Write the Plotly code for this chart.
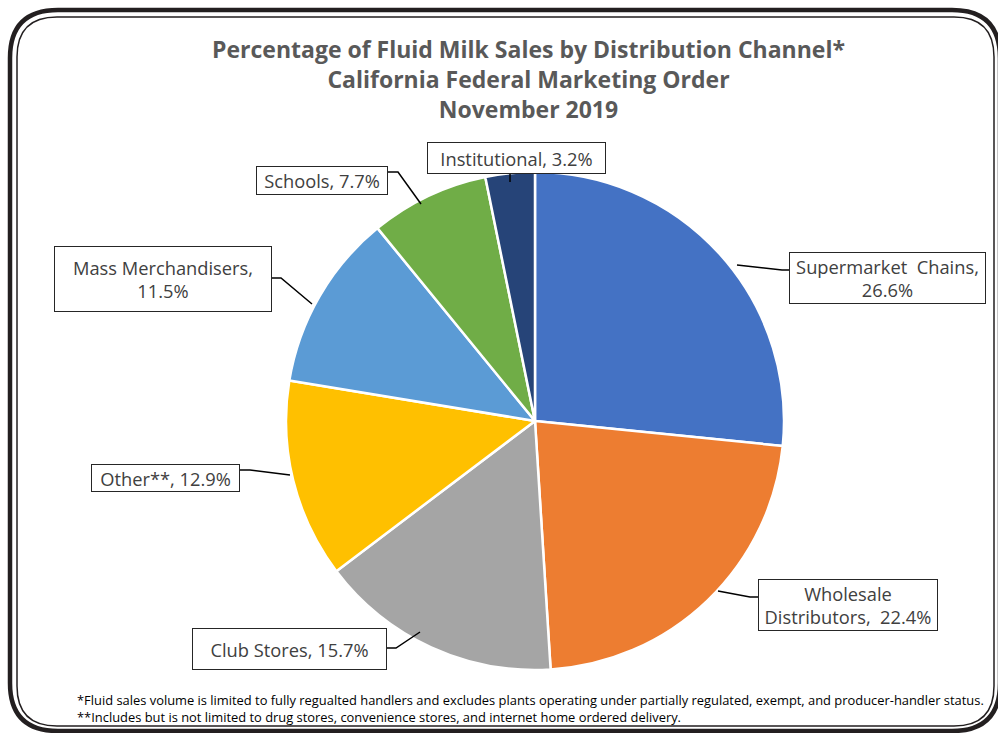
import plotly.graph_objects as go

# ---- data ----
channels = ["Supermarket Chains", "Wholesale Distributors", "Club Stores", "Other**",
            "Mass Merchandisers", "Schools", "Institutional"]
shares = [26.6, 22.4, 15.7, 12.9, 11.5, 7.7, 3.2]
colors = ["#4472C4", "#ED7D31", "#A5A5A5", "#FFC000", "#5B9BD5", "#70AD47", "#264478"]
label_fmt = ["Supermarket  Chains,<br>{v}%", "Wholesale<br>Distributors,  {v}%", "Club Stores, {v}%",
             "Other**, {v}%", "Mass Merchandisers,<br>{v}%", "Schools, {v}%", "Institutional, {v}%"]
title_lines = ["Percentage of Fluid Milk Sales by Distribution Channel*",
               "California Federal Marketing Order", "November 2019"]
footnotes = ["*Fluid sales volume is limited to fully regualted handlers and excludes plants operating under partially regulated, exempt, and producer-handler status.",
             "**Includes but is not limited to drug stores, convenience stores, and internet home ordered delivery."]

W, H = 998, 733
def px(x, y):
    return x / W, 1 - y / H

# ---- layout geometry (pixels) ----
cx, cy, r = 535, 421, 249
boxes = [  # x0, y0, x1, y1
    (789, 252, 986, 304),
    (758, 579, 938, 631),
    (192, 628, 387, 670),
    (91, 464, 240, 492),
    (54, 246, 272, 312),
    (256, 166, 388, 195),
    (427, 142, 606, 174),
]
leaders = [
    [(789, 270), (782, 270), (737, 265)],
    [(758, 597), (750, 597), (718, 591)],
    [(387, 648), (396, 648), (420, 632)],
    [(240, 470), (250, 470), (290, 475)],
    [(272, 278), (281, 278), (312, 304)],
    [(388, 172), (398, 172), (421, 204)],
    [(510, 174), (510, 182)],
]

fig = go.Figure(go.Pie(
    labels=channels, values=shares, sort=False, direction="clockwise", rotation=0,
    marker=dict(colors=colors, line=dict(color="white", width=2.5)),
    textinfo="none", hoverinfo="label+percent", showlegend=False,
    domain=dict(x=[(cx - r) / W, (cx + r) / W], y=[1 - (cy + r) / H, 1 - (cy - r) / H]),
))

annotations = []
shapes = []
for (x0, y0, x1, y1), fmt, v in zip(boxes, label_fmt, shares):
    xc, yc = px((x0 + x1) / 2, (y0 + y1) / 2)
    annotations.append(dict(
        x=xc, y=yc, xref="paper", yref="paper", xanchor="center", yanchor="middle",
        text=fmt.format(v=v), showarrow=False, width=x1 - x0 - 2, height=y1 - y0 - 2,
        bordercolor="#262626", borderwidth=1, borderpad=0, bgcolor="white",
        font=dict(family="Open Sans, sans-serif", size=18.3, color="#404040"),
        align="center"))
for pts in leaders:
    path = "M " + " L ".join(f"{px(x, y)[0]},{px(x, y)[1]}" for x, y in pts)
    shapes.append(dict(type="path", xref="paper", yref="paper", path=path,
                       line=dict(color="black", width=1.5)))

def rrect(l, t, rgt, b, rad):
    p = [f"M {px(l, t + rad)[0]},{px(l, t + rad)[1]}",
         f"Q {px(l, t)[0]},{px(l, t)[1]} {px(l + rad, t)[0]},{px(l + rad, t)[1]}",
         f"L {px(rgt - rad, t)[0]},{px(rgt - rad, t)[1]}",
         f"Q {px(rgt, t)[0]},{px(rgt, t)[1]} {px(rgt, t + rad)[0]},{px(rgt, t + rad)[1]}",
         f"L {px(rgt, b - rad)[0]},{px(rgt, b - rad)[1]}",
         f"Q {px(rgt, b)[0]},{px(rgt, b)[1]} {px(rgt - rad, b)[0]},{px(rgt - rad, b)[1]}",
         f"L {px(l + rad, b)[0]},{px(l + rad, b)[1]}",
         f"Q {px(l, b)[0]},{px(l, b)[1]} {px(l, b - rad)[0]},{px(l, b - rad)[1]} Z"]
    return " ".join(p)

shapes.append(dict(type="path", xref="paper", yref="paper", path=rrect(10, 10, 1000, 731, 48),
                   line=dict(color="#231f20", width=4.5)))
shapes.append(dict(type="path", xref="paper", yref="paper", path=rrect(17, 17, 994, 726, 40),
                   line=dict(color="#231f20", width=1.5)))

annotations.append(dict(
    x=px(528, 0)[0], y=px(0, 31)[1], xref="paper", yref="paper", xanchor="center", yanchor="top",
    text="<br>".join(f"<b>{t}</b>" for t in title_lines), showarrow=False,
    font=dict(family="Open Sans, sans-serif", size=23, color="#595959"), align="center"))
annotations.append(dict(
    x=px(75, 0)[0], y=px(0, 708)[1], xref="paper", yref="paper", xanchor="left", yanchor="middle",
    text="<br>".join(footnotes), showarrow=False,
    font=dict(family="Open Sans, sans-serif", size=12.9, color="black"), align="left"))

fig.update_layout(width=W, height=H, margin=dict(l=0, r=0, t=0, b=0),
                  paper_bgcolor="white", plot_bgcolor="white",
                  annotations=annotations, shapes=shapes)
fig.write_html("out.html", config={"displayModeBar": False},
               post_script="document.body.style.margin='0';document.body.style.overflow='hidden';")
